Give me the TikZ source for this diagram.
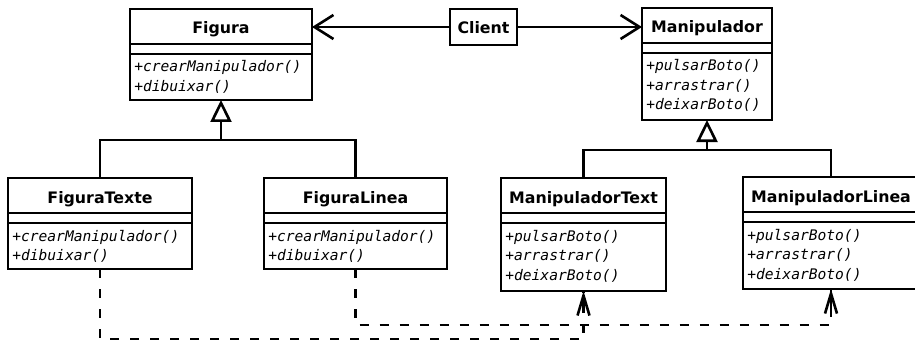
\documentclass[tikz,border=0pt]{standalone}
\usepackage{fontspec}
\setmainfont{DejaVu Sans}
\newfontfamily\umlmono{DejaVu Sans Mono}
\usetikzlibrary{arrows.meta,calc}

% UML class: name, x, y, width, height, title, comma separated operations
\newcommand\umlclass[7]{%
  \node[classbox, minimum width=#4pt, minimum height=#5pt, anchor=north west] (#1) at (#2,#3) {};
  \draw ([yshift=-35pt]#1.north west) -- ([yshift=-35pt]#1.north east);
  \draw ([yshift=-45pt]#1.north west) -- ([yshift=-45pt]#1.north east);
  \node[titletext, anchor=base] (#1-title) at ([yshift=-25pt]#1.north) {#6};
  \foreach \m [count=\i] in {#7} {%
    \node[optext, anchor=base west] (#1-op\i) at ([xshift=3pt, yshift={-63pt-(\i-1)*19.5pt}]#1.north west) {\m};
  }%
}

\begin{document}
\begin{tikzpicture}[x=1pt, y=-1pt, line width=2.6pt,
  classbox/.style={draw, fill=white, rectangle, inner sep=0pt, outer sep=0pt},
  titletext/.style={font=\fontsize{15.8}{18}\selectfont\bfseries, inner sep=0pt},
  optext/.style={font=\umlmono\fontsize{14.6}{19.5}\selectfont\itshape, inner sep=0pt},
  assoc/.style={-{Straight Barb[length=19pt, width=24pt]}},
  inherit/.style={-{Triangle[open, length=22pt, width=21pt, fill=white]}},
  dep/.style={dash pattern=on 9pt off 11pt},
  deptip/.style={solid, -{Straight Barb[length=20pt, width=12pt]}}]

\fill[white] (0,0) rectangle (915,342);
\useasboundingbox (0,0) rectangle (915,342);

% classes
\umlclass{fig}{130}{9}{182}{91}{Figura}{+crearManipulador(),+dibuixar()}
\umlclass{man}{642}{8}{130}{112}{Manipulador}{+pulsarBoto(),+arrastrar(),+deixarBoto()}
\umlclass{ft}{8}{178}{184}{91}{FiguraTexte}{+crearManipulador(),+dibuixar()}
\umlclass{fl}{264}{178}{183}{91}{FiguraLinea}{+crearManipulador(),+dibuixar()}
\umlclass{mt}{501}{178}{165}{113}{ManipuladorText}{+pulsarBoto(),+arrastrar(),+deixarBoto()}
\umlclass{ml}{743}{177}{176}{112}{ManipuladorLinea}{+pulsarBoto(),+arrastrar(),+deixarBoto()}

% client
\node[classbox, minimum width=67pt, minimum height=36pt, anchor=north west] (client) at (450,9) {};
\node[titletext, anchor=base] (client-title) at ([yshift=-25pt]client.north) {Client};

% associations
\draw[assoc] (client.west) -- (client.west -| fig.east);
\draw[assoc] (client.east) -- (client.east -| man.west);

% generalisations
\coordinate (figjoin) at ($(fig.south)+(0,40)$);
\coordinate (manjoin) at ($(man.south)+(0,30)$);
\draw (ft.north) |- (figjoin) -| (fl.north);
\draw[inherit] (figjoin) -- (fig.south);
\draw (mt.north) |- (manjoin) -| (ml.north);
\draw[inherit] (manjoin) -- (man.south);

% dependencies
\coordinate (dep1) at ($(ft.south)+(0,70)$);
\coordinate (dep2) at ($(fl.south)+(0,56)$);
\draw[dep] (ft.south) -- (dep1) -| (mt.south);
\draw[dep] (fl.south) -- (dep2) -| (ml.south);
\draw[deptip] ($(mt.south)+(0,20)$) -- (mt.south);
\draw[deptip] ($(ml.south)+(0,20)$) -- (ml.south);

\end{tikzpicture}
\end{document}
